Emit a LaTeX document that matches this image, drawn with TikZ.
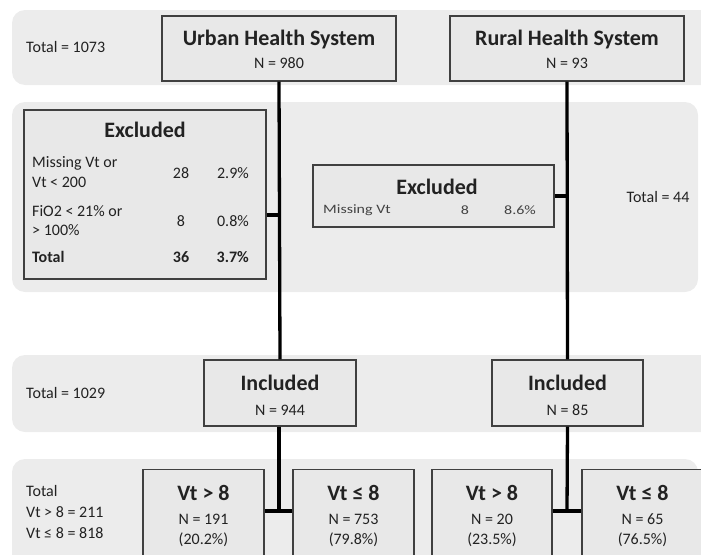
\documentclass[tikz,border=0pt]{standalone}
\usepackage{fontspec}
\setmainfont{Carlito}
\definecolor{bandgray}{HTML}{ECECEC}
\definecolor{boxgray}{HTML}{E8E8E8}
\definecolor{boxline}{HTML}{404040}
\definecolor{txt}{HTML}{222222}
\begin{document}
\begin{tikzpicture}[x=1pt,y=-1pt,
  band/.style={fill=bandgray, rounded corners=13pt},
  box/.style={draw=boxline, line width=1.2pt, fill=boxgray, inner sep=0pt},
  ttl/.style={font=\fontsize{22}{24}\selectfont\bfseries, text=txt, inner sep=0pt},
  txtn/.style={font=\fontsize{16}{18}\selectfont, text=txt, inner sep=0pt},
  txtb/.style={font=\fontsize{16}{18}\selectfont\bfseries, text=txt, inner sep=0pt},
  small/.style={font=\fontsize{16}{18}\selectfont, text=txt!85, inner sep=0pt},
  link/.style={line width=3.3pt, draw=black}]
\useasboundingbox (0,0) rectangle (701,554);
\clip (0,0) rectangle (701,554);
% bands
\fill[band] (12,10) rectangle (720,85);
\fill[band] (12,102) rectangle (698,292);
\fill[band] (12,355) rectangle (720,432);
\fill[band] (12,459) rectangle (698,600);
% band labels
\node[txtn, anchor=west] (t1) at (26,47) {Total = 1073};
\node[txtn] (t2) at (658,197) {Total = 44};
\node[txtn, anchor=west] (t3) at (26,393) {Total = 1029};
\node[txtn, anchor=west] (t4a) at (26,491) {Total};
\node[txtn, anchor=west] (t4b) at (26,512) {Vt > 8 = 211};
\node[txtn, anchor=west] (t4c) at (26,533) {Vt ≤ 8 = 818};
% top boxes
\node[box, minimum width=234pt, minimum height=65pt] (urban) at (279,48.5) {};
\node[ttl] (urbanT) at (279,40) {Urban Health System};
\node[txtn] (urbanN) at (279,63) {N = 980};
\node[box, minimum width=234pt, minimum height=65pt] (rural) at (567,48.5) {};
\node[ttl] (ruralT) at (567,40) {Rural Health System};
\node[txtn] (ruralN) at (567,63) {N = 93};
% urban excluded
\node[box, minimum width=242pt, minimum height=169pt] (uex) at (145,194.5) {};
\node[ttl] (uexT) at (145,130) {Excluded};
\node[txtn, anchor=west] (ue1a) at (32,163) {Missing Vt or};
\node[txtn, anchor=west] (ue1b) at (32,182) {Vt < 200};
\node[txtn] (ue1n) at (181,173) {28};
\node[txtn, anchor=east] (ue1p) at (249,173) {2.9\%};
\node[txtn, anchor=west] (ue2a) at (32,211) {FiO2 < 21\% or};
\node[txtn, anchor=west] (ue2b) at (32,230) {> 100\%};
\node[txtn] (ue2n) at (181,221) {8};
\node[txtn, anchor=east] (ue2p) at (249,221) {0.8\%};
\node[txtb, anchor=west] (ue3a) at (32,257) {Total};
\node[txtb] (ue3n) at (181,257) {36};
\node[txtb, anchor=east] (ue3p) at (249,257) {3.7\%};
% rural excluded
\node[box, minimum width=241pt, minimum height=62pt] (rex) at (433.5,196) {};
\node[ttl] (rexT) at (437,187) {Excluded};
\node[small, anchor=west] (re1a) at (323,210) {\scalebox{1}[0.8]{Missing Vt}};
\node[small] (re1n) at (465,210) {\scalebox{1}[0.8]{8}};
\node[small] (re1p) at (520,210) {\scalebox{1}[0.8]{8.6\%}};
% included
\node[box, minimum width=152pt, minimum height=66pt] (uin) at (280,393) {};
\node[ttl] (uinT) at (280,383) {Included};
\node[txtn] (uinN) at (280,410) {N = 944};
\node[box, minimum width=151pt, minimum height=66pt] (rin) at (567.5,393) {};
\node[ttl] (rinT) at (567.5,383) {Included};
\node[txtn] (rinN) at (567.5,410) {N = 85};
% Vt boxes
\node[box, minimum width=121pt, minimum height=130pt, anchor=north] (u1) at (203.5,469) {};
\node[ttl] (u1T) at (203.5,493) {Vt > 8};
\node[txtn] (u1N) at (203.5,519) {N = 191};
\node[txtn] (u1P) at (203.5,540) {(20.2\%)};
\node[box, minimum width=121pt, minimum height=130pt, anchor=north] (u2) at (353.5,469) {};
\node[ttl] (u2T) at (353.5,493) {Vt ≤ 8};
\node[txtn] (u2N) at (353.5,519) {N = 753};
\node[txtn] (u2P) at (353.5,540) {(79.8\%)};
\node[box, minimum width=120pt, minimum height=130pt, anchor=north] (r1) at (492,469) {};
\node[ttl] (r1T) at (492,493) {Vt > 8};
\node[txtn] (r1N) at (492,519) {N = 20};
\node[txtn] (r1P) at (492,540) {(23.5\%)};
\node[box, minimum width=121pt, minimum height=130pt, anchor=north] (r2) at (642.5,469) {};
\node[ttl] (r2T) at (642.5,493) {Vt ≤ 8};
\node[txtn] (r2N) at (642.5,519) {N = 65};
\node[txtn] (r2P) at (642.5,540) {(76.5\%)};
% connectors
\coordinate (uj) at (279,511);
\coordinate (rj) at (567,511);
\draw[link] (urban.south) -- (uin.north);
\draw[link] (uex.east |- 0,215) -- (279,215);
\draw[link] (rural.south) -- (rin.north);
\draw[link] (rex.east) -- (rex.east -| rural.south);
\draw[link] (uin.south -| uj) -- (uj);
\draw[link] (u1.east |- uj) -- (u2.west |- uj);
\draw[link] (rin.south) -- (rj);
\draw[link] (r1.east |- rj) -- (r2.west |- rj);
\end{tikzpicture}
\end{document}
